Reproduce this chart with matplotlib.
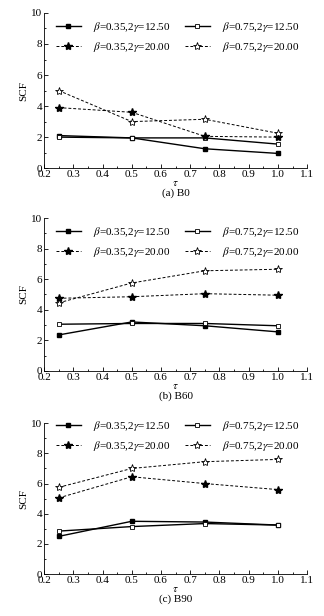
import matplotlib.pyplot as plt
from matplotlib.ticker import MultipleLocator

plt.rcParams['font.family'] = 'Liberation Serif'
plt.rcParams['mathtext.fontset'] = 'stix'
plt.rcParams['font.size'] = 8

# 數據
tau = [0.25, 0.5, 0.75, 1.0]
labels = [r'$\beta$=0.35,2$\gamma$=12.50', r'$\beta$=0.75,2$\gamma$=12.50',
          r'$\beta$=0.35,2$\gamma$=20.00', r'$\beta$=0.75,2$\gamma$=20.00']

b0_s1 = [2.1, 1.95, 1.25, 0.95]
b0_s2 = [2.0, 1.95, 1.95, 1.55]
b0_s3 = [3.9, 3.6, 2.05, 2.0]
b0_s4 = [5.0, 3.0, 3.15, 2.25]

b60_s1 = [2.35, 3.2, 2.95, 2.55]
b60_s2 = [3.05, 3.1, 3.1, 2.95]
b60_s3 = [4.75, 4.85, 5.05, 4.95]
b60_s4 = [4.45, 5.75, 6.55, 6.65]

b90_s1 = [2.5, 3.5, 3.45, 3.25]
b90_s2 = [2.85, 3.15, 3.35, 3.25]
b90_s3 = [5.05, 6.45, 6.0, 5.6]
b90_s4 = [5.75, 7.0, 7.45, 7.6]

panels = [
    ('(a) B0', [b0_s1, b0_s2, b0_s3, b0_s4]),
    ('(b) B60', [b60_s1, b60_s2, b60_s3, b60_s4]),
    ('(c) B90', [b90_s1, b90_s2, b90_s3, b90_s4]),
]

# 位置 (figure fraction)
boxes = [
    [0.136, 0.727, 0.812, 0.252],
    [0.136, 0.398, 0.812, 0.248],
    [0.136, 0.068, 0.812, 0.245],
]
legend_y = [1.0, 1.0, 1.075]  # 圖例的垂直位置

styles = [
    dict(ls='-', lw=1.0, marker='s', ms=2.6, mfc='k', mec='k'),
    dict(ls='-', lw=1.0, marker='s', ms=2.6, mfc='white', mec='k', mew=0.6),
    dict(ls='--', lw=0.7, marker='*', ms=6, mfc='k', mec='k'),
    dict(ls='--', lw=0.7, marker='*', ms=6, mfc='white', mec='k', mew=0.6),
]

fig = plt.figure(figsize=(3.24, 6.16), dpi=100)

for (caption, series), box, ly in zip(panels, boxes, legend_y):
    ax = fig.add_axes(box)
    lines = []
    for ys, lab, st in zip(series, labels, styles):
        ln, = ax.plot(tau, ys, color='k', label=lab, **st)
        if st['ls'] == '--':
            ln.set_dashes((3, 2))
        lines.append(ln)
    ax.set_xlim(0.2, 1.1)
    ax.set_ylim(0, 10)
    ax.xaxis.set_major_locator(MultipleLocator(0.1))
    ax.xaxis.set_minor_locator(MultipleLocator(0.05))
    ax.yaxis.set_major_locator(MultipleLocator(2))
    ax.yaxis.set_minor_locator(MultipleLocator(1))
    ax.tick_params(which='both', direction='in', width=0.6, pad=1.5)
    ax.tick_params(which='major', length=3)
    ax.tick_params(which='minor', length=1.5)
    ax.spines['top'].set_visible(False)
    ax.spines['right'].set_visible(False)
    for sp in ('left', 'bottom'):
        ax.spines[sp].set_linewidth(0.6)
    ax.set_xticklabels(['%.1f' % v for v in ax.get_xticks()])
    ax.set_ylabel('SCF', labelpad=2)
    ax.set_xlabel(r'$\tau$', labelpad=0)
    # 圖例按列排列
    order = [0, 2, 1, 3]
    ax.legend([lines[i] for i in order], [labels[i] for i in order],
              loc='upper left', ncol=2, frameon=False, bbox_to_anchor=(0.02, ly),
              handlelength=2.25, handletextpad=1.1, columnspacing=1.25,
              labelspacing=0.55, borderaxespad=0.2, fontsize=8)
    pos = ax.get_position()
    fig.text(pos.x0 + pos.width / 2, pos.y0 - 25 / 616, caption,
             ha='center', va='center', fontsize=8)

fig.savefig('out.png', dpi=100)
